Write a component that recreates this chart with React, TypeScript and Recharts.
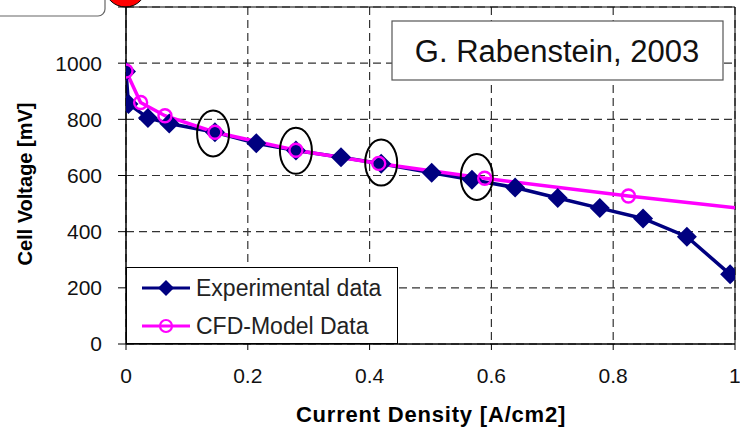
import React from "react";
import {
  LineChart,
  Line,
  XAxis,
  YAxis,
  CartesianGrid,
  Legend,
  ReferenceLine,
  ReferenceDot,
  Customized,
} from "recharts";

// experimental polarisation curve
const expCurrent = [0, 0.004, 0.036, 0.071, 0.146, 0.214, 0.279, 0.353, 0.419, 0.502, 0.568, 0.639, 0.709, 0.778, 0.849, 0.921, 0.992];
const expVoltage = [970, 855, 805, 785, 754, 715, 689, 665, 642, 610, 585, 557, 520, 484, 447, 382, 248];

// CFD model points (last one sits on the plot edge, no marker)
const cfdCurrent = [0, 0.024, 0.064, 0.146, 0.279, 0.415, 0.589, 0.825, 1.0];
const cfdVoltage = [972, 860, 813, 754, 690, 643, 590, 527, 485];

const xTicks = [0, 0.2, 0.4, 0.6, 0.8, 1];
const yTicks = [0, 200, 400, 600, 800, 1000, 1200];

// points circled by hand in the figure
const circledCurrent = [0.143, 0.279, 0.419, 0.576];
const circledVoltage = [750, 688, 646, 595];

const seriesNames = ["Experimental data", "CFD-Model Data"];

const NAVY = "#000080";
const MAGENTA = "#ff00ff";
const FONT = "'Liberation Sans', Arial, sans-serif";

const expData = expCurrent.map((x, i) => ({ x, v: expVoltage[i] }));
const cfdData = cfdCurrent.map((x, i) => ({ x, v: cfdVoltage[i] }));

const diamond = (cx: number, cy: number, r: number) =>
  `M${cx},${cy - r}L${cx + r},${cy}L${cx},${cy + r}L${cx - r},${cy}Z`;

const ExpDot = (props: any) => {
  const { cx, cy, index } = props;
  if (cx == null || cy == null) return <g key={index} />;
  return <path key={index} d={diamond(cx, cy, 10)} fill={NAVY} />;
};

const CfdDot = (props: any) => {
  const { cx, cy, index } = props;
  if (cx == null || cy == null || index === cfdCurrent.length - 1) return <g key={index} />;
  return <circle key={index} cx={cx} cy={cy} r={6.5} fill="none" stroke={MAGENTA} strokeWidth={2.4} />;
};

const renderLegend = (props: any) => {
  const items = [...(props.payload || [])].sort(
    (a: any, b: any) => seriesNames.indexOf(a.value) - seriesNames.indexOf(b.value)
  );
  return (
    <div
      style={{
        width: 272,
        height: 77,
        border: "1px solid #000",
        background: "#fff",
        boxSizing: "border-box",
      }}
    >
      <svg width={270} height={75}>
        {items.map((item: any, i: number) => {
          const y = 20 + i * 38;
          const isExp = item.value === seriesNames[0];
          return (
            <g key={i}>
              <line x1={15} x2={63} y1={y} y2={y} stroke={isExp ? NAVY : MAGENTA} strokeWidth={3} />
              {isExp ? (
                <path d={diamond(39, y, 8)} fill={NAVY} />
              ) : (
                <circle cx={39} cy={y} r={6} fill="none" stroke={MAGENTA} strokeWidth={2.2} />
              )}
              <text x={69} y={y + 8} fontSize={23} fill="#222" fontFamily={FONT}>
                {item.value}
              </text>
            </g>
          );
        })}
      </svg>
    </div>
  );
};

const Decorations = () => (
  <g>
    <text
      transform="translate(32,184) rotate(-90)"
      textAnchor="middle"
      fontSize={20}
      fontWeight="bold"
      fill="#000"
      fontFamily={FONT}
    >
      Cell Voltage [mV]
    </text>
    <text
      x={431}
      y={422}
      textAnchor="middle"
      fontSize={22}
      fontWeight="bold"
      letterSpacing={0.8}
      fill="#000"
      fontFamily={FONT}
    >
      Current Density [A/cm2]
    </text>
    <rect x={392} y={21} width={331} height={59} fill="#fff" stroke="#555" strokeWidth={1.2} />
    <text x={557} y={62} textAnchor="middle" fontSize={31} fill="#111" fontFamily={FONT}>
      G. Rabenstein, 2003
    </text>
    <rect x={-12} y={-24} width={117} height={40} rx={7} fill="#fff" stroke="#666" strokeWidth={1.2} />
    <circle cx={125.5} cy={-14} r={21} fill="#ff0000" stroke="#000" strokeWidth={1} />
  </g>
);

export default function App() {
  return (
    <div style={{ position: "absolute", left: 0, top: 0, fontFamily: FONT }}>
      <LineChart
        width={740}
        height={429}
        margin={{ top: 7, right: 5, bottom: 45, left: 0 }}
      >
        <CartesianGrid strokeDasharray="8 5" stroke="#333" strokeWidth={1.2} />
        <XAxis
          dataKey="x"
          type="number"
          domain={[0, 1]}
          ticks={xTicks}
          height={40}
          tickSize={6}
          tickMargin={18}
          tickFormatter={(v: number) => String(v)}
          tick={{ fill: "#111", fontSize: 21 }}
          axisLine={{ stroke: "#000", strokeWidth: 1.5 }}
          tickLine={{ stroke: "#000" }}
          allowDataOverflow
        />
        <YAxis
          dataKey="v"
          type="number"
          domain={[0, 1200]}
          ticks={yTicks}
          width={126}
          tickSize={8}
          tickMargin={16}
          tickFormatter={(v: number) => (v === 1200 ? "" : String(v))}
          tick={{ fill: "#111", fontSize: 21 }}
          axisLine={{ stroke: "#000", strokeWidth: 1.5 }}
          tickLine={{ stroke: "#000" }}
        />
        <ReferenceLine y={1200} stroke="#000" strokeWidth={1} />
        <ReferenceLine x={1} stroke="#000" strokeWidth={1} />
        <Line
          data={expData}
          dataKey="v"
          name={seriesNames[0]}
          stroke={NAVY}
          strokeWidth={3.5}
          dot={ExpDot}
          activeDot={false}
          isAnimationActive={false}
        />
        <Line
          data={cfdData}
          dataKey="v"
          name={seriesNames[1]}
          stroke={MAGENTA}
          strokeWidth={3.5}
          dot={CfdDot}
          activeDot={false}
          isAnimationActive={false}
        />
        {circledCurrent.map((c, i) => (
          <ReferenceDot
            key={i}
            x={c}
            y={circledVoltage[i]}
            r={20}
            shape={(p: any) => (
              <ellipse cx={p.cx} cy={p.cy} rx={16} ry={23} fill="none" stroke="#000" strokeWidth={2} />
            )}
          />
        ))}
        <Legend
          layout="vertical"
          align="center"
          verticalAlign="middle"
          content={renderLegend}
          wrapperStyle={{ left: 126, top: 267, width: 272, height: 77 }}
        />
        <Customized component={Decorations} />
      </LineChart>
    </div>
  );
}
